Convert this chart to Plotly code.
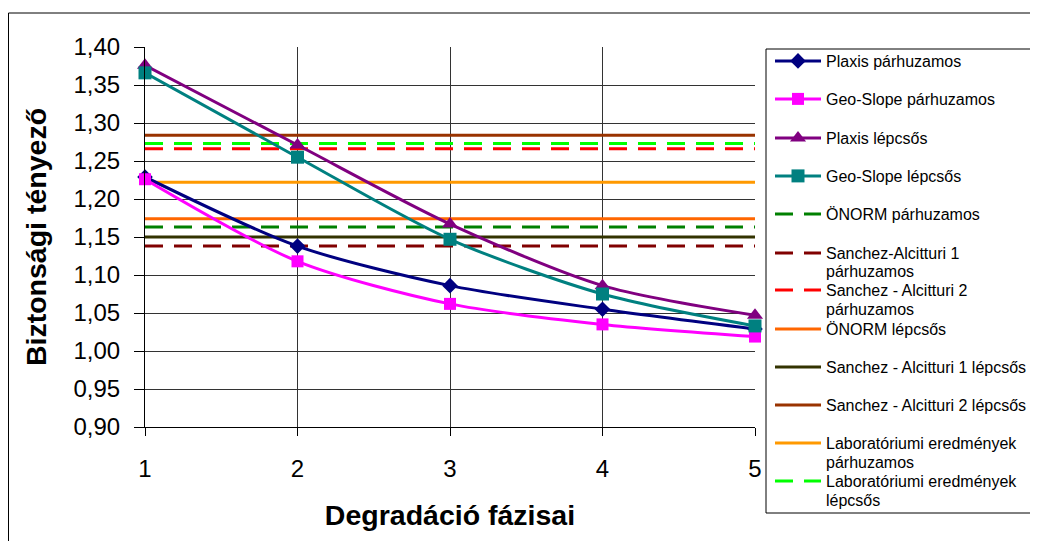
import plotly.graph_objects as go

phases = [1, 2, 3, 4, 5]
x_tick_labels = ["1", "2", "3", "4", "5"]

plaxis_parhuzamos = [1.229, 1.138, 1.086, 1.055, 1.029]
geoslope_parhuzamos = [1.226, 1.118, 1.062, 1.035, 1.019]
plaxis_lepcsos = [1.376, 1.271, 1.167, 1.086, 1.047]
geoslope_lepcsos = [1.366, 1.255, 1.147, 1.075, 1.033]

onorm_parhuzamos = 1.163
sanchez1_parhuzamos = 1.138
sanchez2_parhuzamos = 1.266
onorm_lepcsos = 1.174
sanchez1_lepcsos = 1.150
sanchez2_lepcsos = 1.284
labor_parhuzamos = 1.222
labor_lepcsos = 1.273

FONT = "Liberation Sans, Arial, sans-serif"
DASH = "18px,11px"

# the page body has an 8px margin: work in window pixels, subtract it
OFF = 8
W, H = 1038 - OFF, 541 - OFF
PL, PR, PT, PB = 145, 755, 47, 427          # plot area in window pixels
L, T = PL - OFF, PT - OFF
R, B = W - (PR - OFF), H - (PB - OFF)
pw, ph = PR - PL, PB - PT


def wy(py):
    """window pixel y -> paper y"""
    return 1 - (py - PT) / ph


def wx(px):
    """window pixel x -> paper x"""
    return (px - PL) / pw


fig = go.Figure()

curves = [
    ("Plaxis párhuzamos", plaxis_parhuzamos, "#000080", "diamond", 12, 61),
    ("Geo-Slope párhuzamos", geoslope_parhuzamos, "#FF00FF", "square", 12, 99),
    ("Plaxis lépcsős", plaxis_lepcsos, "#800080", "triangle-up", 14, 138),
    ("Geo-Slope lépcsős", geoslope_lepcsos, "#008080", "square", 13, 176),
]

hlines = [
    ("ÖNORM párhuzamos", None, onorm_parhuzamos, "#008000", DASH, 214, None),
    ("Sanchez-Alcitturi 1", "párhuzamos", sanchez1_parhuzamos, "#800000", DASH, 253, 271),
    ("Sanchez - Alcitturi 2", "párhuzamos", sanchez2_parhuzamos, "#FF0000", DASH, 290, 309),
    ("ÖNORM lépcsős", None, onorm_lepcsos, "#FF6600", "solid", 329, None),
    ("Sanchez - Alcitturi 1 lépcsős", None, sanchez1_lepcsos, "#333300", "solid", 367, None),
    ("Sanchez - Alcitturi 2 lépcsős", None, sanchez2_lepcsos, "#993300", "solid", 405, None),
    ("Laboratóriumi eredmények", "párhuzamos", labor_parhuzamos, "#FF9900", "solid", 443, 462),
    ("Laboratóriumi eredmények", "lépcsős", labor_lepcsos, "#00FF00", DASH, 481, 500),
]

legend_defs = {}
LEG_X = wx(770)


def new_legend(py):
    key = "legend" if not legend_defs else f"legend{len(legend_defs) + 1}"
    legend_defs[key] = dict(
        x=LEG_X, y=wy(py), xanchor="left", yanchor="middle",
        bgcolor="rgba(0,0,0,0)", borderwidth=0,
        font=dict(size=16, family=FONT, color="black"),
        itemwidth=46,
    )
    return key


for name, second, val, col, dash, py1, py2 in hlines:
    fig.add_trace(go.Scatter(
        x=[phases[0], phases[-1]], y=[val, val], mode="lines",
        line=dict(color=col, width=3, dash=dash),
        name=name, legend=new_legend(py1), cliponaxis=False, hoverinfo="skip",
    ))
    if second:
        fig.add_trace(go.Scatter(
            x=[None], y=[None], mode="lines",
            line=dict(color="rgba(0,0,0,0)", width=0),
            name=second, legend=new_legend(py2), showlegend=True, hoverinfo="skip",
        ))

for name, vals, col, sym, ms, py1 in curves:
    fig.add_trace(go.Scatter(
        x=phases, y=vals, mode="lines+markers",
        line=dict(color=col, width=3, shape="spline", smoothing=0.8),
        marker=dict(symbol=sym, size=ms, color=col),
        name=name, legend=new_legend(py1), cliponaxis=False,
    ))

fig.update_layout(
    width=W, height=H,
    margin=dict(l=L, r=R, t=T, b=B, pad=0, autoexpand=False),
    paper_bgcolor="white", plot_bgcolor="white",
    font=dict(family=FONT, color="black"),
    separators=", ",
    showlegend=True,
    xaxis=dict(
        range=[1, 5], tickmode="array", tickvals=phases, ticktext=x_tick_labels,
        showgrid=True, gridcolor="#333333", gridwidth=1,
        showline=True, linecolor="black", linewidth=1,
        ticks="outside", ticklen=8, tickcolor="black",
        tickfont=dict(size=24), ticklabelstandoff=12,
        zeroline=False,
        title=dict(text="<b>Degradáció fázisai</b>", font=dict(size=28.5), standoff=24),
    ),
    yaxis=dict(
        range=[0.90, 1.40], dtick=0.05, tick0=0.90, tickformat=".2f",
        showgrid=True, gridcolor="#333333", gridwidth=1,
        showline=True, linecolor="black", linewidth=1,
        ticks="outside", ticklen=10, tickcolor="black",
        tickfont=dict(size=24), ticklabelstandoff=9,
        zeroline=False,
        title=dict(text="<b>Biztonsági tényező</b>", font=dict(size=28.5), standoff=18),
    ),
    shapes=[
        dict(type="rect", xref="paper", yref="paper",
             x0=wx(8.5), x1=wx(1060),
             y0=wy(560), y1=wy(13),
             line=dict(color="black", width=1), layer="below"),
        dict(type="rect", xref="paper", yref="paper",
             x0=wx(766), x1=wx(1036),
             y0=wy(513), y1=wy(49),
             line=dict(color="black", width=1), fillcolor="white", layer="below"),
    ],
    **legend_defs,
)

fig.write_html("out.html")
